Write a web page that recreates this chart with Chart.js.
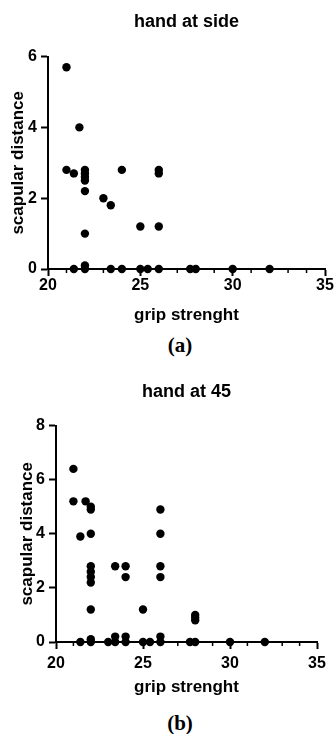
<!DOCTYPE html>
<html>
<head>
<meta charset="utf-8">
<script src="https://cdn.jsdelivr.net/npm/chart.js@4.4.0/dist/chart.umd.min.js"></script>
<style>
  body { margin: 0; background: #fff; width: 334px; height: 734px; position: relative; overflow: hidden; }
  canvas { position: absolute; left: 0; }
  .tag { position: absolute; width: 100px; text-align: center; font: bold 21px "Liberation Serif", serif; color: #000; line-height: 24px; }
</style>
</head>
<body>
<canvas id="sideChart" width="334" height="330" style="top:0"></canvas>
<div class="tag" style="left:130px; top:333px">(a)</div>
<canvas id="at45Chart" width="334" height="330" style="top:370px"></canvas>
<div class="tag" style="left:130px; top:711px">(b)</div>
<script>
// hand at side
const sideGrip = [21, 21, 21.4, 21.4, 21.7, 22, 22, 22, 22, 22, 22, 22, 22, 23, 23.4, 23.4, 24, 24, 25, 25, 25.4, 26, 26, 26, 26, 27.7, 28, 30, 32];
const sideDist = [5.7, 2.8, 2.7, 0, 4.0, 2.8, 2.7, 2.6, 2.5, 2.2, 1.0, 0.1, 0, 2.0, 1.8, 0, 2.8, 0, 1.2, 0, 0, 2.8, 2.7, 1.2, 0, 0, 0, 0, 0];

// hand at 45
const at45Grip = [21, 21, 21.4, 21.4, 21.7, 22, 22, 22, 22, 22, 22, 22, 22, 22, 22, 23, 23.4, 23.4, 23.4, 24, 24, 24, 24, 25, 25, 25.4, 26, 26, 26, 26, 26, 26, 27.7, 28, 28, 28, 28, 30, 32];
const at45Dist = [6.4, 5.2, 3.9, 0, 5.2, 5.0, 4.9, 4.0, 2.8, 2.6, 2.4, 2.2, 1.2, 0.1, 0, 0, 2.8, 0.2, 0, 2.8, 2.4, 0.2, 0, 1.2, 0, 0, 4.9, 4.0, 2.8, 2.4, 0.2, 0, 0, 1.0, 0.9, 0.8, 0, 0, 0];

const gripMin = 20, gripMax = 35, gripStep = 5;

Chart.defaults.font.family = '"Liberation Sans", Arial, sans-serif';
Chart.defaults.color = '#000';

// small ticks between the labelled ones on the grip axis
const minorTicks = {
  id: 'minorTicks',
  beforeDatasetsDraw(chart) {
    const x = chart.scales.x;
    const y0 = chart.chartArea.bottom;
    const ctx = chart.ctx;
    ctx.save();
    ctx.strokeStyle = '#000';
    ctx.lineWidth = 1.5;
    for (let v = x.min + 1; v < x.max; v++) {
      if (v % gripStep === 0) continue;
      const px = x.getPixelForValue(v);
      ctx.beginPath();
      ctx.moveTo(px, y0);
      ctx.lineTo(px, y0 + 4);
      ctx.stroke();
    }
    ctx.restore();
  }
};

function makeChart(id, title, grip, dist, o) {
  let pts = [];
  for (let i = 0; i < grip.length; i++) {
    pts.push({x: grip[i], y: dist[i]});
  }
  return new Chart(document.getElementById(id), {
    type: 'scatter',
    data: {
      datasets: [{
        data: pts,
        backgroundColor: '#000',
        borderWidth: 0,
        pointRadius: 4.2,
        pointHoverRadius: 4.2,
        clip: false
      }]
    },
    options: {
      responsive: false,
      animation: false,
      events: [],
      layout: {padding: {left: 0, right: o.padRight, top: 0, bottom: 0}},
      plugins: {
        legend: {display: false},
        tooltip: {enabled: false},
        title: {
          display: true,
          text: title,
          fullSize: false,
          color: '#000',
          font: {size: 18, weight: 'bold'},
          padding: o.titlePad
        }
      },
      scales: {
        x: {
          type: 'linear',
          min: gripMin,
          max: gripMax,
          afterFit(s) { s.height = o.xHeight; },
          border: {display: true, color: '#000', width: 2},
          grid: {drawOnChartArea: false, tickLength: 7, tickWidth: 2, tickColor: '#000'},
          ticks: {stepSize: gripStep, padding: o.xTickPad, color: '#000', font: {size: 16, weight: 'bold'}},
          title: {display: true, text: 'grip strenght', color: '#000', font: {size: 17, weight: 'bold'}, padding: {top: 0, bottom: o.xTitlePad}}
        },
        y: {
          type: 'linear',
          min: 0,
          max: o.yMax,
          afterFit(s) { s.width = o.yWidth; },
          border: {display: true, color: '#000', width: 2},
          grid: {drawOnChartArea: false, tickLength: 7, tickWidth: 2, tickColor: '#000'},
          ticks: {stepSize: 2, padding: 4, color: '#000', font: {size: 16, weight: 'bold'}},
          title: {display: true, text: 'scapular distance', color: '#000', font: {size: 17, weight: 'bold'}, padding: {top: o.yTitlePad, bottom: 0}}
        }
      }
    },
    plugins: [minorTicks]
  });
}

makeChart('sideChart', 'hand at side', sideGrip, sideDist, {
  yMax: 6, yWidth: 48, padRight: 9, xHeight: 61,
  titlePad: {top: 11, bottom: 24}, xTickPad: 0, xTitlePad: 4, yTitlePad: 8
});
makeChart('at45Chart', 'hand at 45', at45Grip, at45Dist, {
  yMax: 8, yWidth: 56, padRight: 17, xHeight: 58,
  titlePad: {top: 11, bottom: 23}, xTickPad: 5, xTitlePad: 2, yTitlePad: 17
});
</script>
</body>
</html>
